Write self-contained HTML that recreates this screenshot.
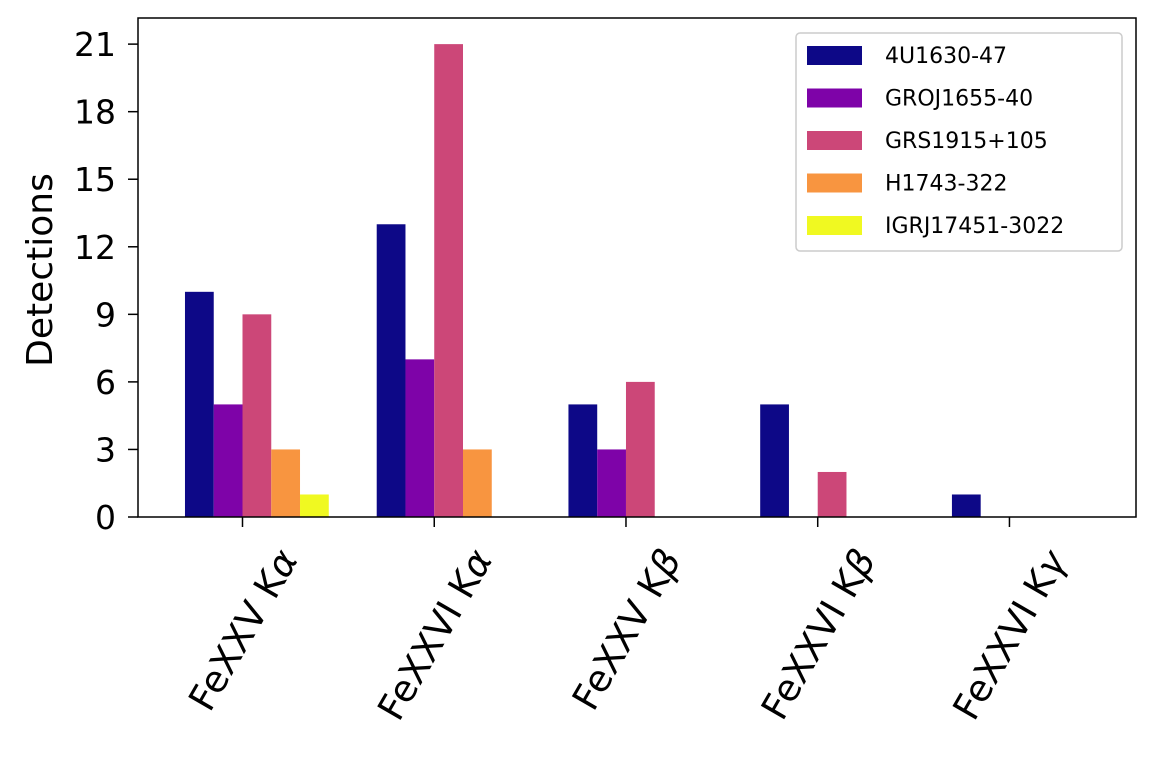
<!DOCTYPE html>
<html><head><meta charset="utf-8"><style>body{margin:0;background:#fff}svg{font-family:"DejaVu Sans","Liberation Sans",sans-serif}</style></head>
<body>
<svg id="chart" width="1155" height="752" xmlns="http://www.w3.org/2000/svg"></svg>
<script>
const categories=["FeXXV Kα","FeXXVI Kα","FeXXV Kβ","FeXXVI Kβ","FeXXVI Kγ"];
const seriesNames=["4U1630-47","GROJ1655-40","GRS1915+105","H1743-322","IGRJ17451-3022"];
const s4U=[10,13,5,5,1];
const sGRO=[5,7,3,0,0];
const sGRS=[9,21,6,2,0];
const sH=[3,3,0,0,0];
const sIGR=[1,0,0,0,0];
const yTicks=[0,3,6,9,12,15,18,21];
const series=[s4U,sGRO,sGRS,sH,sIGR];
const colors=["#0d0887","#7e03a8","#cc4778","#f89540","#f0f921"];
const L=138,R=1136,T=18,B=517,xmin=-0.545,xmax=4.66,ymax=22.16,bw=0.15;
const xs=v=>L+(v-xmin)/(xmax-xmin)*(R-L);
const ys=v=>B-v/ymax*(B-T);
const svg=document.getElementById('chart');const NS="http://www.w3.org/2000/svg";
function mk(t,a,p){const e=document.createElementNS(NS,t);for(const k in a)e.setAttribute(k,a[k]);(p||svg).appendChild(e);return e;}
series.forEach((s,i)=>{s.forEach((v,j)=>{if(v<=0)return;
const r=mk('rect',{x:xs(j+(i-2)*bw),y:ys(v),width:xs(bw)-xs(0),height:ys(0)-ys(v),fill:colors[i]});

});});
const frame=mk('rect',{x:L,y:T,width:R-L,height:B-T,fill:'none',stroke:'#000','stroke-width':1.5});

yTicks.forEach(v=>{const y=ys(v);mk('line',{x1:L-10,x2:L,y1:y,y2:y,stroke:'#000','stroke-width':1.5});
const t=mk('text',{x:L-22,y:y+12,'text-anchor':'end','font-size':33});t.textContent=v;
});
categories.forEach((c,j)=>{const x=xs(j);mk('line',{x1:x,x2:x,y1:B,y2:B+10,stroke:'#000','stroke-width':1.5});
const g=mk('g',{});
const t=mk('text',{x:0,y:0,'text-anchor':'middle','font-size':37,transform:'rotate(-60)'},g);
t.appendChild(document.createTextNode(c.slice(0,-1)));
const ts=mk('tspan',{'font-style':'italic'},t);ts.textContent=c.slice(-1);

const bb=g.getBBox();
g.setAttribute('transform',`translate(${x+1-(bb.x+bb.width/2)} ${B+25-bb.y})`);});
const yt=mk('text',{x:52,y:270,'text-anchor':'middle','font-size':36,transform:'rotate(-90 52 270)'});yt.textContent='Detections';

const lg=mk('g',{});
mk('rect',{x:796,y:33,width:326,height:218,rx:4,fill:'#fff',stroke:'#ccc','stroke-width':1.5},lg);
seriesNames.forEach((n,i)=>{const y=55+i*42.5;
mk('rect',{x:807,y:y-9,width:55,height:19,fill:colors[i]},lg);
const t=mk('text',{x:885,y:y+8,'font-size':22},lg);t.textContent=n;
});
</script>
</body></html>
